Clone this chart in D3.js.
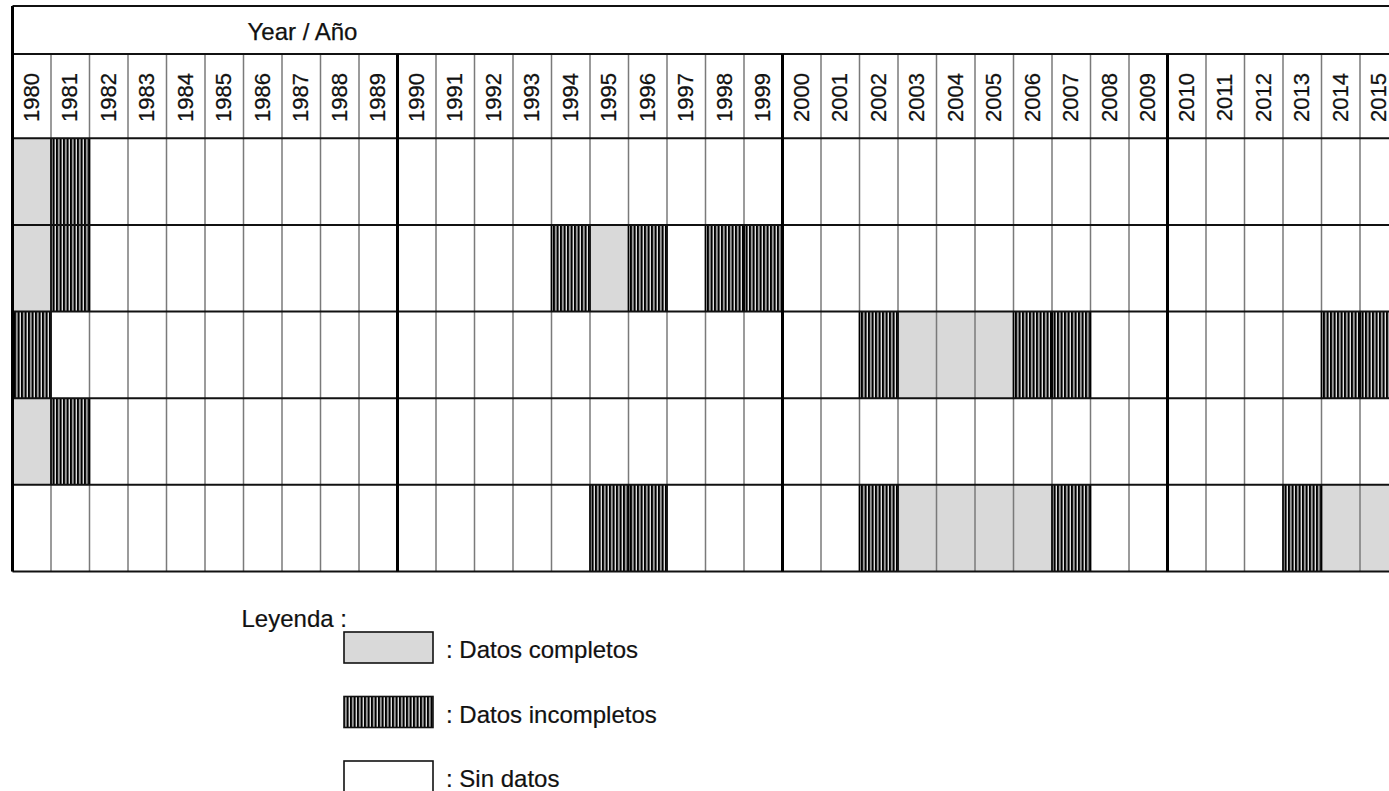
<!DOCTYPE html>
<html><head><meta charset="utf-8">
<script src="https://cdn.jsdelivr.net/npm/d3@7"></script>
<style>body{margin:0;background:#fff;overflow:hidden} svg{display:block;font-family:Arial,"Liberation Sans",sans-serif}</style>
</head><body>
<svg id="c" width="1389" height="791"></svg>
<script>
// ---- data ----
const years = [1980,1981,1982,1983,1984,1985,1986,1987,1988,1989,
               1990,1991,1992,1993,1994,1995,1996,1997,1998,1999,
               2000,2001,2002,2003,2004,2005,2006,2007,2008,2009,
               2010,2011,2012,2013,2014,2015];
const rows = ["r1","r2","r3","r4","r5"];
const completeYears = [
  [1980],
  [1980,1995],
  [2003,2004,2005],
  [1980],
  [2003,2004,2005,2006,2014,2015]
];
const incompleteYears = [
  [1981],
  [1981,1994,1996,1998,1999],
  [1980,2002,2006,2007,2014,2015],
  [1981],
  [1995,1996,2002,2007,2013]
];
const decadeYears = [1980,1990,2000,2010];
const titleText = "Year / Año";
const legendTitle = "Leyenda :";
const legendItems = [
  {key:"complete", label:": Datos completos"},
  {key:"incomplete", label:": Datos incompletos"},
  {key:"none", label:": Sin datos"}
];

// ---- layout ----
const svg = d3.select("#c");
const left = 12.5, colW = 38.5;
const x = d3.scaleBand().domain(years).range([left, left + years.length*colW]).padding(0);
const y = d3.scaleBand().domain(rows).range([138.3, 571.5]).padding(0);
const topY = 6, headY = 54, gridBottom = 571.5, rightX = left + years.length*colW;

const defs = svg.append("defs");
const pat = defs.append("pattern").attr("id","hatch").attr("patternUnits","userSpaceOnUse")
  .attr("width",3.5).attr("height",10);
pat.append("rect").attr("width",3.5).attr("height",10).attr("fill","#e8e8e8");
pat.append("rect").attr("x",0).attr("width",2.2).attr("height",10).attr("fill","#000");

const fillFor = {complete:"#d9d9d9", incomplete:"url(#hatch)", none:"#fff"};

// cells
const cells = [];
rows.forEach((r,i)=>{
  years.forEach(yr=>{
    let s = "none";
    if (completeYears[i].includes(yr)) s = "complete";
    if (incompleteYears[i].includes(yr)) s = "incomplete";
    cells.push({r, yr, s});
  });
});
svg.append("g").selectAll("rect").data(cells.filter(d=>d.s!=="none")).join("rect")
  .attr("x",d=>x(d.yr)).attr("y",d=>y(d.r))
  .attr("width",x.bandwidth()).attr("height",y.bandwidth())
  .attr("fill",d=>fillFor[d.s]);

// thin vertical lines
svg.append("g").selectAll("line").data(years).join("line")
  .attr("x1",d=>x(d)).attr("x2",d=>x(d)).attr("y1",headY).attr("y2",gridBottom)
  .attr("stroke","#7a7a7a").attr("stroke-width",1.5);
// black borders on sides of incomplete cells
svg.append("g").selectAll("line").data(cells.filter(d=>d.s==="incomplete").flatMap(d=>[{d,xx:x(d.yr)},{d,xx:x(d.yr)+x.bandwidth()}])).join("line")
  .attr("x1",e=>e.xx).attr("x2",e=>e.xx).attr("y1",e=>y(e.d.r)).attr("y2",e=>y(e.d.r)+y.bandwidth())
  .attr("stroke","#000").attr("stroke-width",1.6);

// horizontal lines
const hLines = [topY, headY].concat(rows.map(r=>y(r))).concat([gridBottom]);
svg.append("g").selectAll("line").data(hLines).join("line")
  .attr("x1",left).attr("x2",rightX).attr("y1",d=>d).attr("y2",d=>d)
  .attr("stroke","#111").attr("stroke-width",2);

// decade lines
svg.append("g").selectAll("line").data(decadeYears).join("line")
  .attr("x1",d=>x(d)).attr("x2",d=>x(d))
  .attr("y1",d=>d===1980?topY:headY).attr("y2",gridBottom)
  .attr("stroke","#000").attr("stroke-width",3);

// title
svg.append("text").attr("x",302.5).attr("y",40).attr("text-anchor","middle")
  .attr("font-size",24).attr("fill","#111").attr("stroke","#111").attr("stroke-width",0.25)
  .text(titleText);

// year labels
svg.append("g").selectAll("text").data(years).join("text")
  .attr("transform",d=>`translate(${x(d)+x.bandwidth()/2+7},97.5) rotate(-90)`)
  .attr("text-anchor","middle").attr("font-size",22).attr("fill","#111")
  .attr("stroke","#111").attr("stroke-width",0.25).text(d=>d);

// legend
svg.append("text").attr("x",241.5).attr("y",627).attr("font-size",24).attr("fill","#111")
  .attr("stroke","#111").attr("stroke-width",0.2).text(legendTitle);
const ly = d3.scaleBand().domain(legendItems.map(d=>d.key)).range([632, 632+3*64.5]);
const lg = svg.append("g").selectAll("g").data(legendItems).join("g")
  .attr("transform",d=>`translate(0,${ly(d.key)})`);
lg.append("rect").attr("x",344).attr("y",0).attr("width",89).attr("height",31)
  .attr("fill",d=>fillFor[d.key]).attr("stroke","#111").attr("stroke-width",1.6);
lg.append("text").attr("x",446).attr("y",26).attr("font-size",24).attr("fill","#111")
  .attr("stroke","#111").attr("stroke-width",0.2).text(d=>d.label);
</script>
</body></html>
